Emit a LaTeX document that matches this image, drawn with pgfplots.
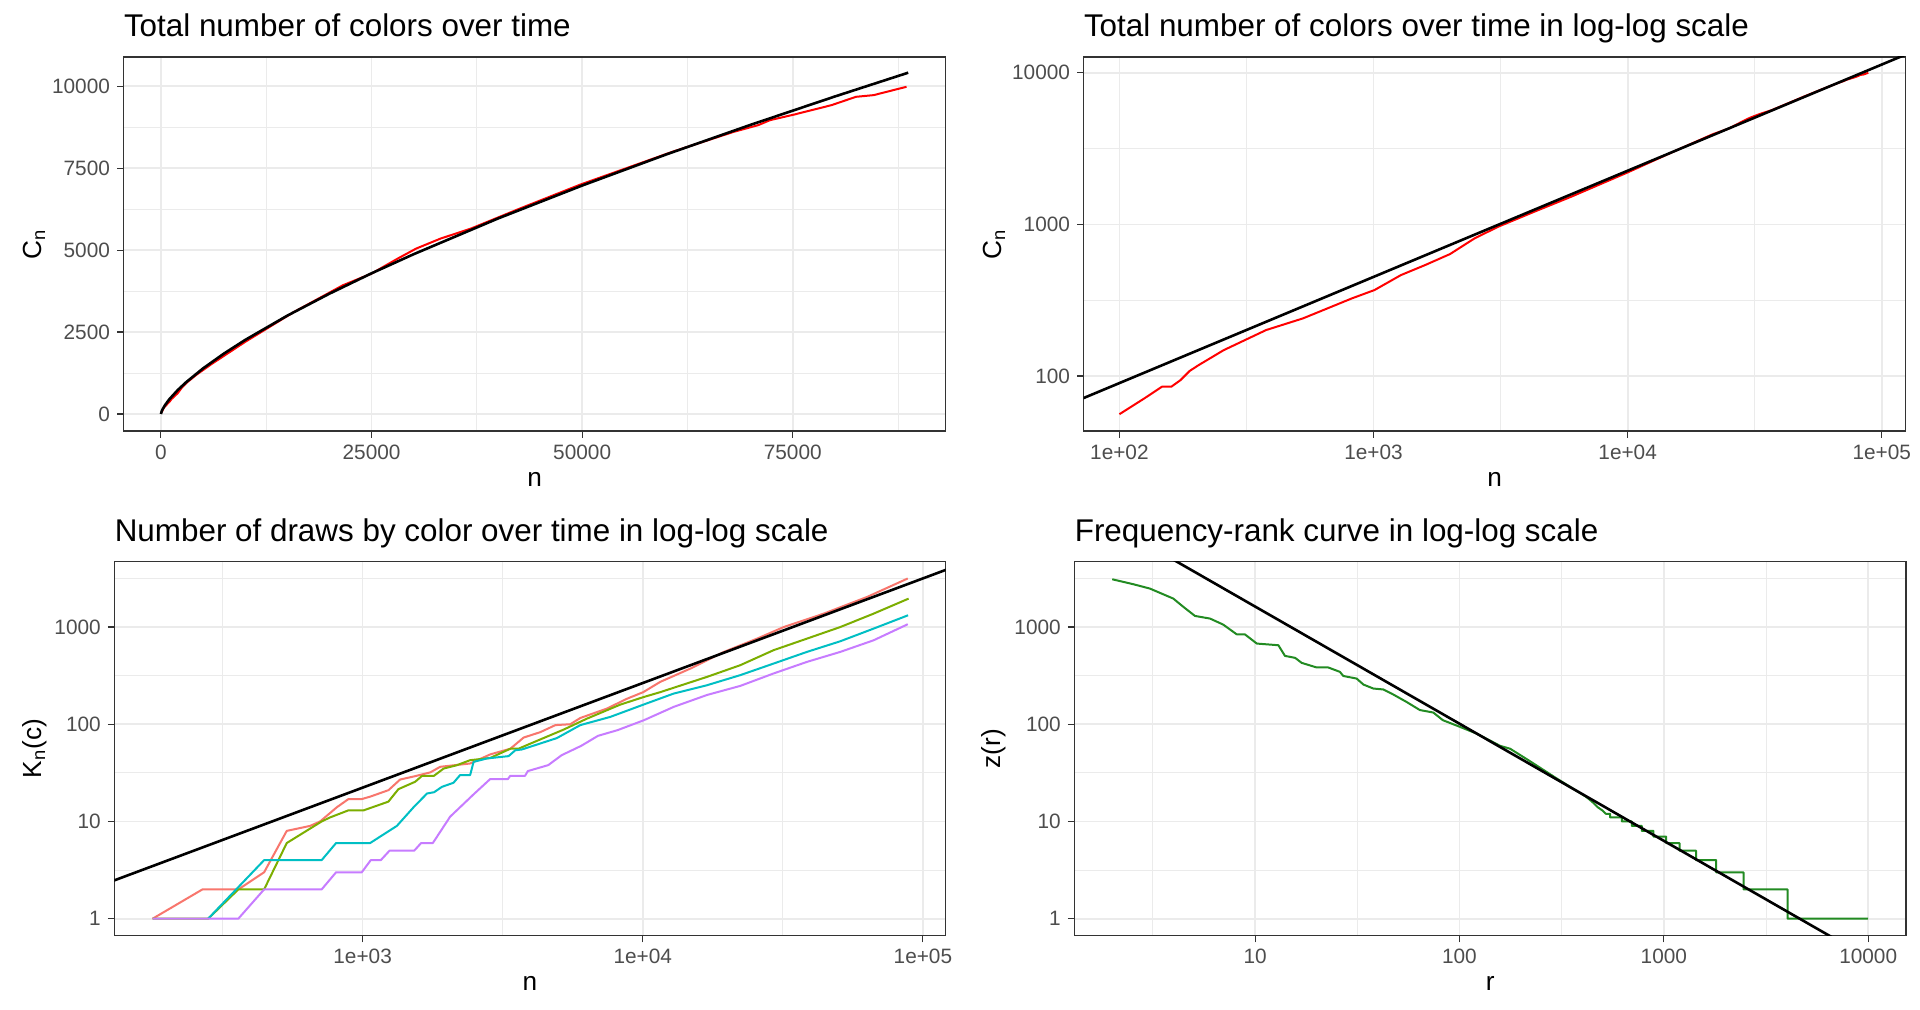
\documentclass[border=0pt]{standalone}
\usepackage{pgfplots}
\usepackage{pgfplotstable}
\pgfplotsset{compat=1.18}
\usepackage{fontspec}
\setmainfont{Liberation Sans}
\definecolor{gridgrey}{HTML}{EBEBEB}
\definecolor{bordergrey}{HTML}{333333}
\definecolor{tickgrey}{HTML}{4D4D4D}
\definecolor{gR}{HTML}{F8766D}
\definecolor{gG}{HTML}{7CAE00}
\definecolor{gC}{HTML}{00BFC4}
\definecolor{gP}{HTML}{C77CFF}
\definecolor{fgreen}{HTML}{228B22}

\pgfplotstableread{
n C
100 56
125 71
147 85
160 85
174 94
189 108
205 118
257 148
378 201
528 240
822 325
1009 369
1282 463
1600 540
2000 637
2500 809
3100 966
4300 1213
6000 1522
10000 2200
15800 3113
21600 3927
25000 4283
28100 4740
30300 5046
33200 5351
36800 5656
42600 6266
49800 6999
60700 7996
68000 8606
70900 8810
72300 8962
75200 9135
79600 9420
82500 9674
84600 9725
88500 9980
}\redCn

\pgfplotstableread{
n C
0 0
100 90
200 146
500 277
1000 451
2000 732
3000 972
5000 1391
7500 1847
10000 2259
15000 3000
20000 3670
25000 4291
30000 4874
40000 5962
50000 6968
60000 7918
70000 8820
80000 9684
88700 10409
}\blackCn

\pgfplotstableread{
n C
50 55.3
200000 18387
}\blackLog

\pgfplotstableread{
n K
178 1
268 2
360 2
445 3
536 8
649 9
705 10
809 14
890 17
993 17
1064 18
1237 21
1361 27
1520 29
1745 32
1892 36.5
2420 39.5
2856 49
3367 56
3757 73
4310 83
4876 98
5510 100
5985 116
7447 145
8782 183
10040 214
11550 273
14790 374
19450 554
25590 760
31860 1000
44260 1374
63200 2040
88300 3160
}\kRed

\pgfplotstableread{
n K
178 1
281 1
360 2
445 2
536 6
714 10
765 11
889 13
1007 13
1122 14.5
1236 16
1342 21.5
1540 25.6
1629 29.4
1795 29.4
1945 35
2168 37.9
2420 42.7
2853 45
3367 56
3600 56
3960 63
5212 88
6310 114
8300 159
10040 190
11550 214
16950 307
22280 405
29300 578
38550 760
50700 1000
66700 1374
88900 1960
}\kGreen

\pgfplotstableread{
n K
281 1
445 4
714 4
804 6
1064 6
1156 7
1325 9
1520 14
1698 19.4
1800 20
1919 22.7
2110 25
2228 30
2420 30
2489 41
2780 44.5
3320 47
3508 54
3700 55
4932 72
5985 98
7656 119
10040 159
12900 207
16950 252
22280 320
29300 421
38550 555
50700 714
66700 964
88500 1321
}\kCyan

\pgfplotstableread{
n K
178 1
360 1
445 2
714 2
804 3
993 3
1069 4
1161 4
1247 5
1527 5
1618 6
1781 6
2053 11.2
2322 15.7
2489 19
2853 27.3
3300 27.3
3367 29.5
3800 29.5
3890 33
4600 38
5130 48
6030 60
6920 76
8130 87
10090 110
12900 151
16950 200
22280 248
29300 333
38550 438
50700 555
66700 731
88300 1069
}\kPurple

\pgfplotstableread{
n K
100 1.87
200000 6670
}\kBlack

\pgfplotstableread{
r z
2 3100
2.54 2755
3.06 2486
3.98 1963
4.46 1611
5.08 1301
6.02 1222
6.98 1060
8.12 843
8.9 843
10.2 676
13 650
14 505
15.7 482
16.9 428
20 384
22.8 384
26 346
27 314
31.4 295
33.9 256
37.9 233
42.4 228
47.5 202
55 170
64 140
74.5 132
83 110
100.6 94
121.5 80
158 60
177 56
217 42.8
299 27.7
412 18.2
430 17
445 16
460 15
475 14
500 13
520 12
546 12
546 11
623 11
623 10
697 10
697 9
780 9
780 8
890 8
890 7
1026 7
1026 6
1193 6
1193 5
1439 5
1439 4
1803 4
1803 3
2454 3
2454 2
4030 2
4030 1
10000 1
}\zr

\pgfplotstableread{
r z
1 26060
20000 0.171
}\zBlack

\pgfplotsset{
  gg/.style={
    scale only axis,
    anchor=south west,
    height=187pt,
    axis line style={bordergrey, line width=0.65pt},
    tick align=outside,
    xtick pos=bottom, ytick pos=left,
    major tick length=3.3pt,
    minor tick length=0pt,
    every tick/.style={bordergrey, line width=0.55pt},
    xmajorgrids, ymajorgrids, xminorgrids, yminorgrids,
    major grid style={gridgrey, line width=0.85pt},
    minor grid style={gridgrey, line width=0.45pt},
    ticklabel style={font=\fontsize{10.4}{12}\selectfont, text=tickgrey},
    scaled ticks=false,
    every axis plot/.append style={line join=round},
  }
}

\begin{document}
\begin{tikzpicture}
\fill[white] (0,0) rectangle (960pt,504.5pt);
\useasboundingbox (0,0) rectangle (960pt,504.5pt);

% Panel 1
\begin{axis}[gg, at={(61.8pt,289pt)}, width=410.95pt,
  xmin=-4430, xmax=93130, ymin=-518, ymax=10888,
  xtick={0,25000,50000,75000}, xticklabels={0,25000,50000,75000},
  ytick={0,2500,5000,7500,10000}, yticklabels={0,2500,5000,7500,10000},
  minor xtick={12500,37500,62500,87500}, minor ytick={1250,3750,6250,8750}]
\addplot[red, line width=1pt] table[x=n,y=C] {\redCn};
\addplot[black, line width=1.3pt] table[x=n,y=C] {\blackCn};
\end{axis}

% Panel 2
\begin{axis}[gg, at={(541.8pt,289pt)}, width=410.95pt,
  xmode=log, ymode=log,
  xmin=72.3, xmax=124000, ymin=43.4, ymax=12690,
  xtick={100,1000,10000,100000}, xticklabels={1e+02,1e+03,1e+04,1e+05},
  ytick={100,1000,10000}, yticklabels={100,1000,10000},
  minor xtick={316.2,3162,31623}, minor ytick={316.2,3162}]
\addplot[red, line width=1pt] table[x=n,y=C] {\redCn};
\addplot[black, line width=1.3pt] table[x=n,y=C] {\blackLog};
\end{axis}

% Panel 3
\begin{axis}[gg, at={(57.2pt,36.65pt)}, width=415.6pt,
  xmode=log, ymode=log,
  xmin=130, xmax=120500, ymin=0.668, ymax=4699,
  xtick={1000,10000,100000}, xticklabels={1e+03,1e+04,1e+05},
  ytick={1,10,100,1000}, yticklabels={1,10,100,1000},
  minor xtick={316.2,3162,31623}, minor ytick={3.162,31.62,316.2,3162}]
\addplot[gR, line width=1pt] table[x=n,y=K] {\kRed};
\addplot[gG, line width=1pt] table[x=n,y=K] {\kGreen};
\addplot[gC, line width=1pt] table[x=n,y=K] {\kCyan};
\addplot[gP, line width=1pt] table[x=n,y=K] {\kPurple};
\addplot[black, line width=1.3pt] table[x=n,y=K] {\kBlack};
\end{axis}

% Panel 4
\begin{axis}[gg, at={(537.2pt,36.65pt)}, width=415.8pt,
  xmode=log, ymode=log,
  xmin=1.306, xmax=15310, ymin=0.668, ymax=4699,
  xtick={10,100,1000,10000}, xticklabels={10,100,1000,10000},
  ytick={1,10,100,1000}, yticklabels={1,10,100,1000},
  minor xtick={3.162,31.62,316.2,3162}, minor ytick={3.162,31.62,316.2,3162}]
\addplot[fgreen, line width=1pt] table[x=r,y=z] {\zr};
\addplot[black, line width=1.3pt] table[x=r,y=z] {\zBlack};
\end{axis}

% Titles
\begin{scope}[every node/.style={inner sep=0pt, font=\fontsize{15.7}{18}\selectfont, anchor=base west}]
\node at (61.8pt,486pt) {Total number of colors over time};
\node at (541.8pt,486pt) {Total number of colors over time in log-log scale};
\node at (57.2pt,233.75pt) {Number of draws by color over time in log-log scale};
\node at (537.2pt,233.75pt) {Frequency-rank curve in log-log scale};
\end{scope}

% Axis titles
\begin{scope}[every node/.style={inner sep=0pt, font=\fontsize{13.1}{15}\selectfont, anchor=base}]
\node at (267.3pt,261.15pt) {n};
\node at (747.3pt,261.15pt) {n};
\node at (265pt,9.5pt) {n};
\node at (745.1pt,9.5pt) {r};
\node[rotate=90] at (20.8pt,382.5pt) {C\textsubscript{n}};
\node[rotate=90] at (500.8pt,382.5pt) {C\textsubscript{n}};
\node[rotate=90] at (20.8pt,130.15pt) {K\textsubscript{n}(c)};
\node[rotate=90] at (500.3pt,130.15pt) {z(r)};
\end{scope}
\end{tikzpicture}
\end{document}
